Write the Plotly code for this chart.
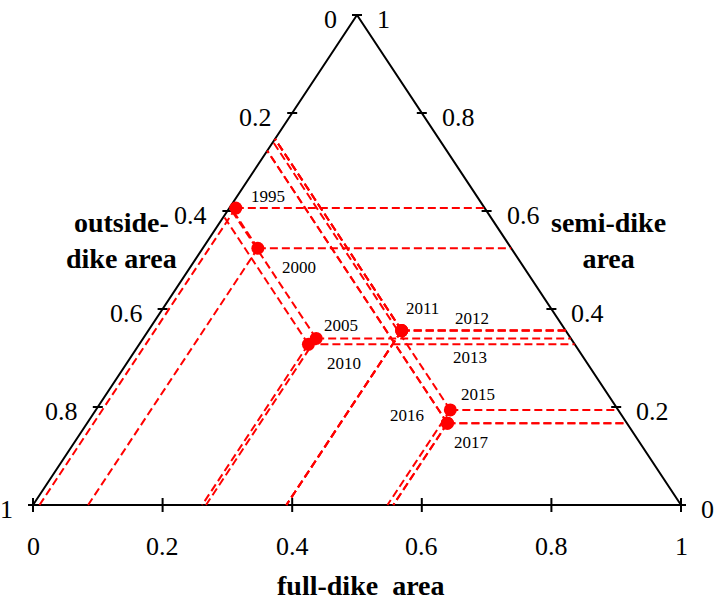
import plotly.graph_objects as go

# Land-use composition by year (fractions of full-dike, semi-dike and outside-dike area)
years = ["1995", "2000", "2005", "2010", "2011", "2012", "2013", "2015", "2016", "2017"]
full_dike = [0.010, 0.085, 0.267, 0.261, 0.391, 0.391, 0.391, 0.547, 0.556, 0.556]
semi_dike = [0.606, 0.524, 0.340, 0.328, 0.356, 0.356, 0.356, 0.194, 0.167, 0.167]
outside_dike = [0.384, 0.391, 0.393, 0.411, 0.253, 0.253, 0.253, 0.259, 0.277, 0.277]

# label offsets (px) for each year's text relative to its marker
label_dx = [32, 41, 25, 36, 21, 70, 68, 28, -40, 24]
label_dy = [12, -19, 13, -19, 22, 12, -27, 15, 8, -19]

tick_vals = [0, 0.2, 0.4, 0.6, 0.8, 1.0]

SERIF = "Liberation Serif"
RED = "#ff0000"

# plot scale: base of triangle is 1 unit wide (648 px), height 1 unit (490 px)
PX_X = 648.0
PX_Y = 490.0
X0_PX, Y0_PX = 33.0, 505.0
W, H = 715, 600


def to_xy(f, s):
    """Ternary (full, semi) -> cartesian position inside the triangle."""
    return f + s / 2.0, s


def fmt(v):
    return "0" if v == 0 else ("1" if v == 1 else f"{v:.1f}")


fig = go.Figure()

# triangle frame
tri = [to_xy(0, 1), to_xy(0, 0), to_xy(1, 0), to_xy(0, 1)]
fig.add_trace(go.Scatter(
    x=[p[0] for p in tri], y=[p[1] for p in tri], mode="lines",
    line=dict(color="black", width=2), hoverinfo="skip", showlegend=False))

# tick marks on the three edges
tx, ty = [], []
hx = 5 / PX_X
hy = 7 / PX_Y
for v in tick_vals:
    # left edge (outside-dike)
    x, y = to_xy(0, 1 - v)
    tx += [x - hx, x + hx, None]
    ty += [y, y, None]
    # right edge (semi-dike)
    x, y = to_xy(1 - v, v)
    tx += [x - hx, x + hx, None]
    ty += [y, y, None]
    # bottom edge (full-dike)
    x, y = to_xy(v, 0)
    tx += [x, x, None]
    ty += [y - hy, y + hy, None]
fig.add_trace(go.Scatter(
    x=tx, y=ty, mode="lines", line=dict(color="black", width=2),
    hoverinfo="skip", showlegend=False))

# guide lines from each point to the three axes
gx, gy = [], []
for f, s, o in zip(full_dike, semi_dike, outside_dike):
    px, py = to_xy(f, s)
    for qf, qs in [(f + o, s), (f, 0.0), (0.0, 1 - o)]:
        qx, qy = to_xy(qf, qs)
        gx += [px, qx, None]
        gy += [py, qy, None]
fig.add_trace(go.Scatter(
    x=gx, y=gy, mode="lines",
    line=dict(color=RED, width=2, dash="8px,4px"),
    hoverinfo="skip", showlegend=False))

# the yearly composition points
pts = [to_xy(f, s) for f, s in zip(full_dike, semi_dike)]
fig.add_trace(go.Scatter(
    x=[p[0] for p in pts], y=[p[1] for p in pts], mode="markers",
    marker=dict(color=RED, size=13, line=dict(width=0)),
    text=years, hoverinfo="text", showlegend=False))

annotations = []
for (x, y), yr, dx, dy in zip(pts, years, label_dx, label_dy):
    annotations.append(dict(
        x=x, y=y, xref="x", yref="y", text=yr, showarrow=False,
        xshift=dx, yshift=dy, font=dict(family=SERIF, size=17, color="black")))

tick_font = dict(family=SERIF, size=26, color="black")
for v in tick_vals:
    x, y = to_xy(0, 1 - v)
    annotations.append(dict(x=x, y=y, xref="x", yref="y", text=fmt(v), showarrow=False,
                            xanchor="right", xshift=-18, yshift=-4, font=tick_font))
    x, y = to_xy(1 - v, v)
    annotations.append(dict(x=x, y=y, xref="x", yref="y", text=fmt(v), showarrow=False,
                            xanchor="left", xshift=18, yshift=-4, font=tick_font))
    x, y = to_xy(v, 0)
    annotations.append(dict(x=x, y=y, xref="x", yref="y", text=fmt(v), showarrow=False,
                            xanchor="center", yshift=-41, font=tick_font))

title_font = dict(family=SERIF, size=28, color="black")
annotations += [
    dict(x=121 / W, y=1 - 241 / H, xref="paper", yref="paper",
         text="<b>outside-</b><br><b>dike area</b>", showarrow=False, align="center",
         xanchor="center", yanchor="middle", font=title_font),
    dict(x=608 / W, y=1 - 241 / H, xref="paper", yref="paper",
         text="<b>semi-dike</b><br><b>area</b>", showarrow=False, align="center",
         xanchor="center", yanchor="middle", font=title_font),
    dict(x=360 / W, y=1 - 585 / H, xref="paper", yref="paper",
         text="<b>full-dike\u00a0\u00a0area</b>", showarrow=False,
         xanchor="center", yanchor="middle", font=title_font),
]

fig.update_layout(
    width=W, height=H,
    margin=dict(l=0, r=0, t=0, b=0),
    paper_bgcolor="white", plot_bgcolor="white",
    xaxis=dict(range=[-X0_PX / PX_X, (W - X0_PX) / PX_X], visible=False, fixedrange=True),
    yaxis=dict(range=[(Y0_PX - H) / PX_Y, Y0_PX / PX_Y], visible=False, fixedrange=True),
    annotations=annotations,
)

fig.write_html("out.html")
